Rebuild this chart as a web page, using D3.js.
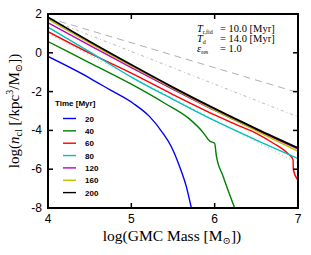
<!DOCTYPE html>
<html>
<head>
<meta charset="utf-8">
<script src="https://cdn.jsdelivr.net/npm/d3@7"></script>
<style>
  body { margin: 0; background: #fff; }
  svg { display: block; }
  .tick-label { font-family: "Liberation Sans", Arial, sans-serif; font-size: 12px; }
  .serif { font-family: "Liberation Serif", "DejaVu Serif", serif; }
  .leg { font-family: "Liberation Sans", Arial, sans-serif; font-size: 8px; font-weight: bold; }
</style>
</head>
<body>
<div id="chart"></div>
<script>
// legend / series
let times = [20, 40, 60, 80, 120, 160, 200];
let lineColors = ["#0000ff", "#008000", "#ff0000", "#00bfbf", "#bf00bf", "#bfbf00", "#000000"];

// log GMC mass and log n_cl, one pair per time
let logM_20 = [4, 4.5, 4.74, 5.02, 5.22, 5.38, 5.48, 5.58, 5.66, 5.72];
let logN_20 = [-0.19, -1.3, -1.9, -2.6, -3.29, -4.15, -4.84, -5.87, -6.9, -8.0];
let logM_40 = [4, 4.5, 5, 5.4, 5.7, 5.86, 5.94, 6.0, 6.02, 6.1, 6.24];
let logN_40 = [0.58, -0.52, -1.62, -2.6, -3.42, -4.1, -4.55, -4.66, -5.3, -6.35, -8.0];
let logM_60 = [4, 4.5, 5, 5.5, 6, 6.3, 6.5, 6.7, 6.88, 6.94, 6.945, 7];
let logN_60 = [1.09, -0.02, -1.05, -2.15, -3.2, -3.78, -4.15, -4.65, -5.2, -5.5, -6.04, -6.56];
let logM_80 = [4, 4.5, 5, 5.5, 6, 6.5, 7];
let logN_80 = [1.32, 0.05, -1.25, -2.4, -3.5, -4.5, -5.45];
let logM_120 = [4, 4.5, 5, 5.5, 6, 6.5, 7];
let logN_120 = [1.55, 0.38, -0.76, -1.88, -2.97, -3.99, -4.96];
let logM_160 = [4, 4.5, 5, 5.5, 6, 6.5, 7];
let logN_160 = [1.73, 0.5, -0.68, -1.84, -2.96, -4.02, -5.08];
let logM_200 = [4, 4.5, 5, 5.5, 6, 6.5, 7];
let logN_200 = [1.83, 0.58, -0.62, -1.78, -2.88, -3.92, -4.91];

// grey reference lines
let refM = [4, 7];
let refDashed = [1.8, -2.05];
let refDashDot = [1.75, -3.3];
let refDotted = [1.0, -5.7];

let xTicks = [4, 5, 6, 7];
let yTicks = [2, 0, -2, -4, -6, -8];

let width = 311, height = 255;
let margin = {left: 48, right: 13, top: 14, bottom: 47};

let svg = d3.select("#chart").append("svg")
    .attr("width", width).attr("height", height);

let x = d3.scaleLinear().domain([4, 7]).range([margin.left, width - margin.right]);
let y = d3.scaleLinear().domain([-8, 2]).range([height - margin.bottom, margin.top]);

svg.append("clipPath").attr("id", "clip")
    .append("rect")
    .attr("x", x(4)).attr("y", y(2))
    .attr("width", x(7) - x(4)).attr("height", y(-8) - y(2));

let plot = svg.append("g").attr("clip-path", "url(#clip)");

let line = d3.line()
    .x(function(d) { return x(d[0]); })
    .y(function(d) { return y(d[1]); })
    .curve(d3.curveMonotoneX);

function pairs(ms, vs) { return ms.map(function(m, i) { return [m, vs[i]]; }); }

// reference lines first
plot.append("path").attr("d", line(pairs(refM, refDashed)))
    .attr("fill", "none").attr("stroke", "#9a9a9a").attr("stroke-width", 0.8)
    .attr("stroke-dasharray", "7,5");
plot.append("path").attr("d", line(pairs(refM, refDashDot)))
    .attr("fill", "none").attr("stroke", "#a5a5a5").attr("stroke-width", 0.8)
    .attr("stroke-dasharray", "3,3,1,3");
plot.append("path").attr("d", line(pairs(refM, refDotted)))
    .attr("fill", "none").attr("stroke", "#9a9a9a").attr("stroke-width", 0.8)
    .attr("stroke-dasharray", "1,3");

let series = [
    pairs(logM_20, logN_20), pairs(logM_40, logN_40), pairs(logM_60, logN_60),
    pairs(logM_80, logN_80), pairs(logM_120, logN_120), pairs(logM_160, logN_160),
    pairs(logM_200, logN_200)
];

series.forEach(function(s, i) {
    plot.append("path")
        .attr("d", line(s))
        .attr("fill", "none")
        .attr("stroke", lineColors[i])
        .attr("stroke-width", i == 6 ? 1.8 : 1.4);
});

// frame and ticks
svg.append("rect")
    .attr("x", x(4)).attr("y", y(2))
    .attr("width", x(7) - x(4)).attr("height", y(-8) - y(2))
    .attr("fill", "none").attr("stroke", "#000").attr("stroke-width", 2);

let tickLen = 5;
xTicks.forEach(function(t) {
    svg.append("line").attr("x1", x(t)).attr("x2", x(t))
        .attr("y1", y(-8)).attr("y2", y(-8) - tickLen).attr("stroke", "#000").attr("stroke-width", 1.5);
    svg.append("line").attr("x1", x(t)).attr("x2", x(t))
        .attr("y1", y(2)).attr("y2", y(2) + tickLen).attr("stroke", "#000").attr("stroke-width", 1.5);
    svg.append("text").attr("class", "tick-label")
        .attr("x", x(t)).attr("y", y(-8) + 15)
        .attr("text-anchor", "middle").text(t);
});
yTicks.forEach(function(t) {
    svg.append("line").attr("x1", x(4)).attr("x2", x(4) + tickLen)
        .attr("y1", y(t)).attr("y2", y(t)).attr("stroke", "#000").attr("stroke-width", 1.5);
    svg.append("line").attr("x1", x(7)).attr("x2", x(7) - tickLen)
        .attr("y1", y(t)).attr("y2", y(t)).attr("stroke", "#000").attr("stroke-width", 1.5);
    svg.append("text").attr("class", "tick-label")
        .attr("x", x(4) - 6).attr("y", y(t) + 4)
        .attr("text-anchor", "end").text(t);
});

// axis titles
let xt = svg.append("text").attr("class", "serif")
    .attr("x", (x(4) + x(7)) / 2 - 1).attr("y", 241)
    .attr("text-anchor", "middle").attr("font-size", 15.5);
xt.append("tspan").text("log(GMC Mass [M");
xt.append("tspan").attr("font-size", 10).attr("dy", 3).text("⊙");
xt.append("tspan").attr("dy", -3).text("])");

let yt = svg.append("text").attr("class", "serif")
    .attr("transform", "translate(19," + (y(-3)) + ") rotate(-90)")
    .attr("text-anchor", "middle").attr("font-size", 15);
yt.append("tspan").text("log(");
yt.append("tspan").attr("font-style", "italic").text("n");
yt.append("tspan").attr("font-size", 10).attr("dy", 3).text("cl");
yt.append("tspan").attr("dy", -3).text(" [/kpc");
yt.append("tspan").attr("font-size", 10).attr("dy", -6).text("3");
yt.append("tspan").attr("dy", 6).text("/M");
yt.append("tspan").attr("font-size", 10).attr("dy", 3).text("⊙");
yt.append("tspan").attr("dy", -3).text("])");

// parameter annotation
let annot = [
    {sym: "T", sub: "r,fid", val: "= 10.0 [Myr]"},
    {sym: "T", sub: "d", val: "= 14.0 [Myr]"},
    {sym: "ε", sub: "res", val: "= 1.0"}
];
annot.forEach(function(a, i) {
    let ty = 32 + i * 10;
    let t = svg.append("text").attr("class", "serif")
        .attr("x", 197).attr("y", ty).attr("font-size", 10.5);
    t.append("tspan").attr("font-style", "italic").text(a.sym);
    t.append("tspan").attr("font-size", 6).attr("dy", 1.5).text(a.sub);
    svg.append("text").attr("class", "serif")
        .attr("x", 220).attr("y", ty).attr("font-size", 10.5).text(a.val);
});

// legend
svg.append("text").attr("class", "leg")
    .attr("x", 55).attr("y", 106).text("Time [Myr]");
times.forEach(function(t, i) {
    let ly = 118.5 + i * 12.35;
    svg.append("line").attr("x1", 63).attr("x2", 76)
        .attr("y1", ly).attr("y2", ly)
        .attr("stroke", lineColors[i]).attr("stroke-width", 1.4);
    svg.append("text").attr("class", "leg")
        .attr("x", 85).attr("y", ly + 3).text(t);
});
</script>
</body>
</html>
